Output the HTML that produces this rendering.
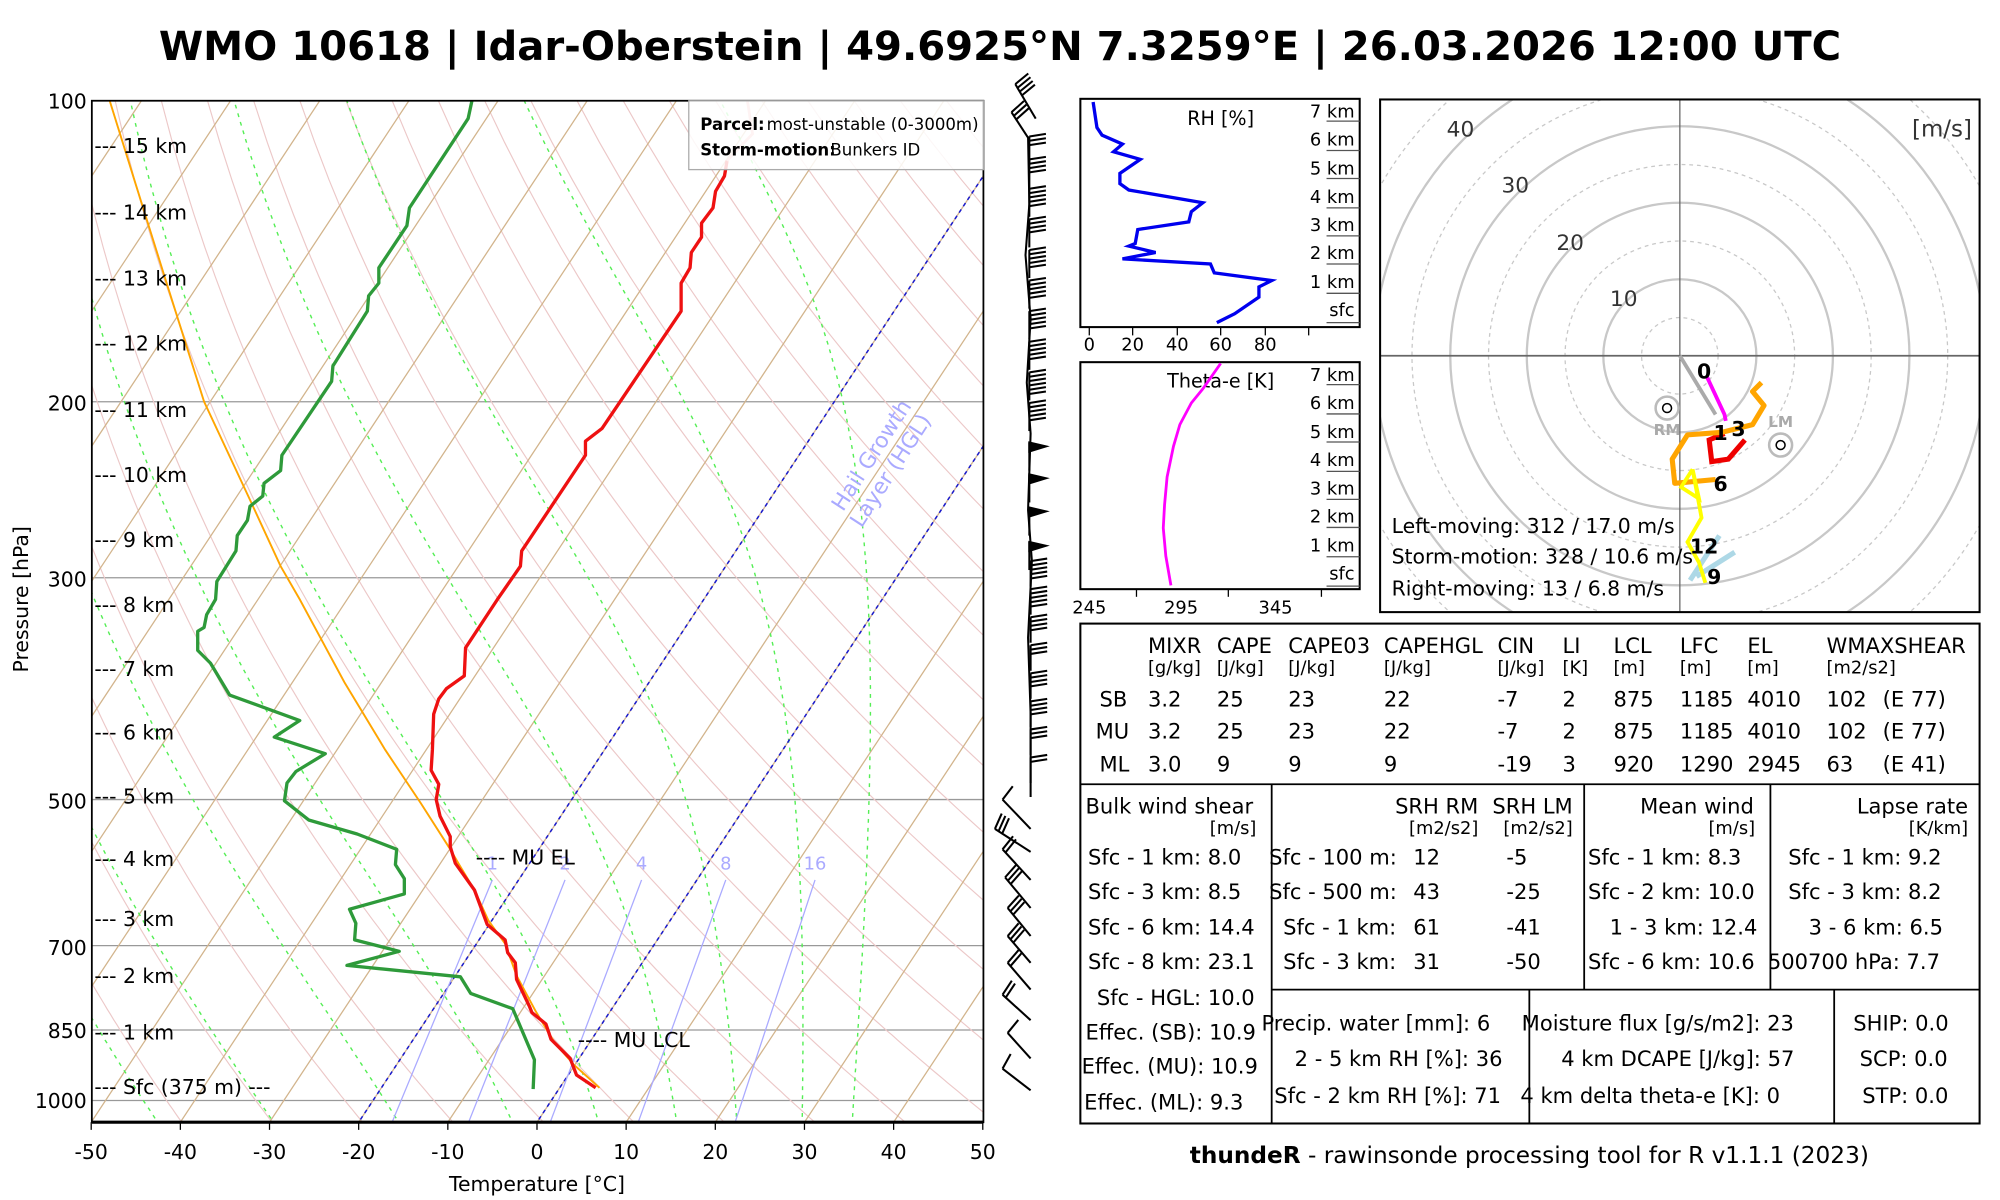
<!DOCTYPE html>
<html><head><meta charset="utf-8"><style>
html,body{margin:0;padding:0;background:#fff;}
svg{display:block;font-family:"DejaVu Sans","Liberation Sans",sans-serif;}
</style></head><body>
<svg id="s" width="2000" height="1200" viewBox="0 0 1568 941" preserveAspectRatio="none" xmlns="http://www.w3.org/2000/svg">
<defs><clipPath id="cp"><rect x="72" y="79" width="699" height="801"/></clipPath>
<clipPath id="hc"><rect x="1082" y="78" width="470" height="402"/></clipPath></defs>
<rect width="1568" height="941" fill="#fff"/>
<text x="784" y="47" font-size="31.5" font-weight="bold" text-anchor="middle">WMO 10618 | Idar-Oberstein | 49.6925°N 7.3259°E | 26.03.2026 12:00 UTC</text>
<g id="bg" clip-path="url(#cp)"></g>
<g id="fg" clip-path="url(#cp)"></g>
<g id="bar" stroke="#000" stroke-width="1.6" fill="none"></g>
<g id="txt"></g>
</svg>
<script>
var NS="http://www.w3.org/2000/svg";
function el(p,t,a,tx){var e=document.createElementNS(NS,t);for(var k in a)e.setAttribute(k,a[k]);if(tx!=null)e.textContent=tx;document.getElementById(p).appendChild(e);return e;}
function Y(p){return 79+784*Math.log10(p/100);}
function X(T,p){return 421+6.99*T+0.66*(880-Y(p));}
function pl(g,pts,st){el(g,"polyline",Object.assign({points:pts.map(function(q){return q[0].toFixed(1)+","+q[1].toFixed(1)}).join(" "),fill:"none"},st));}
[200,300,500,700,850,1000].forEach(function(p){el("bg","line",{x1:72,x2:771,y1:Y(p),y2:Y(p),stroke:"#999","stroke-width":1});});
for(var th=200;th<=600;th+=10){var a=[];for(var p=100;p<=1060;p+=10){a.push([X(th*Math.pow(p/1000,0.2857)-273.15,p),Y(p)]);}pl("bg",a,{stroke:"#ecc8c8","stroke-width":0.9});}
for(var Ti=-160;Ti<=50;Ti+=10){el("bg","line",{x1:X(Ti,1060),y1:Y(1060),x2:X(Ti,100),y2:Y(100),stroke:"#d2b48c","stroke-width":1});}
function es(tc){return 6.112*Math.exp(17.67*tc/(tc+243.5));}
[-42,-29,-15,-2.3,7.3,16,22.7,30,35.6].forEach(function(t0){var p=1060,T=t0+273.15,a=[];while(p>=100){a.push([X(T-273.15,p),Y(p)]);var e=es(T-273.15),rs=0.622*e/(p-e);var d=(287*T+2.5e6*rs)/(1004+2.5e6*2.5e6*rs*0.622/(287*T*T))/p;T+=d*(-5);p-=5;}pl("bg",a,{stroke:"#55ee55","stroke-width":1.1,"stroke-dasharray":"3,4"});});
[-20,0].forEach(function(T){el("bg","line",{x1:X(T,1060),y1:Y(1060),x2:X(T,100),y2:Y(100),stroke:"#1a1acc","stroke-width":1.2,"stroke-dasharray":"3,3"});});
var mb=[307,367,431,500,576],mt=[386,443,503,569,639],ml=["1","2","4","8","16"];
for(var i=0;i<5;i++){el("bg","line",{x1:mb[i],y1:881,x2:mt[i],y2:690,stroke:"#aaaaff","stroke-width":1});el("bg","text",{x:mt[i],y:682,"font-size":14,fill:"#aaaaff","text-anchor":"middle"},ml[i]);}
var orange=[[470,853],[450,835],[435,818],[420,793],[405,765],[396,740],[383,722],[372,698],[360,678],[353,666],[330,630],[302,588],[270,535],[235,470],[220,444],[196,392],[160,315],[130,220],[105,140],[86,79]];
pl("fg",orange,{stroke:"#ffa500","stroke-width":1.5});
var red=[[467,853],[452,843],[447,830],[432,815],[428,803],[417,794],[415,789],[405,768],[404,755],[398,747],[396,737],[382,725],[372,698],[357,677],[353,664],[353,656],[345,640],[342,627],[344,615],[338,604],[339,588],[340,560],[344,548],[350,540],[364,530],[365,508],[390,470],[408,444],[409,432],[459,357],[459,346],[472,336],[534,244],[534,222],[541,210],[542,198],[550,186],[550,175],[559,163],[561,150],[568,138],[570,126]];
pl("fg",red,{stroke:"#ee1111","stroke-width":2.6,"stroke-linejoin":"round"});
pl("fg",[[570,126],[590,105],[586,79]],{stroke:"#f4b0b0","stroke-width":2.2});
var grn=[[418,854],[419,831],[402,791],[369,779],[361,766],[272,757],[313,746],[278,737],[279,724],[274,713],[317,701],[317,689],[310,678],[311,666],[280,654],[242,643],[223,628],[225,614],[232,605],[255,591],[215,578],[235,565],[180,545],[165,520],[155,510],[155,495],[160,492],[162,482],[169,470],[170,456],[185,432],[186,420],[194,408],[196,397],[206,389],[207,379],[220,369],[221,357],[260,299],[261,287],[288,244],[289,232],[297,222],[297,210],[319,177],[321,163],[367,93],[370,79]];
pl("fg",grn,{stroke:"#2e9a3a","stroke-width":2.6,"stroke-linejoin":"round"});
el("txt","rect",{x:72,y:79,width:699,height:801,fill:"none",stroke:"#000","stroke-width":1.4});
el("txt","line",{x1:72,x2:771,y1:880,y2:880,stroke:"#000","stroke-width":2.5});
for(var t=-50;t<=50;t+=10){var x=421+6.99*t;el("txt","line",{x1:x,x2:x,y1:880,y2:886,stroke:"#000"});el("txt","text",{x:x,y:909,"font-size":16,"text-anchor":"middle"},String(t));}
[[100,79],[200,316],[300,454],[500,628],[700,743],[850,808],[1000,863]].forEach(function(q){el("txt","text",{x:68,y:q[1]+6,"font-size":16,"text-anchor":"end"},String(q[0]));});
var km=[["15 km",114],["14 km",166],["13 km",218],["12 km",269],["11 km",321],["10 km",372],["9 km",423],["8 km",474],["7 km",524],["6 km",574],["5 km",624],["4 km",673],["3 km",720],["2 km",765],["1 km",809],["Sfc (375 m) ---",852]];
km.forEach(function(k){el("txt","text",{x:74,y:k[1]+6,"font-size":16},"--- "+k[0]);});
el("txt","text",{x:421,y:934,"font-size":16,"text-anchor":"middle"},"Temperature [°C]");
el("txt","text",{x:22,y:470,"font-size":16,"text-anchor":"middle",transform:"rotate(-90 22 470)"},"Pressure [hPa]");
el("txt","text",{x:373,y:678,"font-size":16},"---- MU EL");
el("txt","text",{x:453,y:821,"font-size":16},"---- MU LCL");
el("txt","text",{x:688,y:360,"font-size":17,fill:"#aaaaff","text-anchor":"middle",transform:"rotate(-57 688 360)"},"Hail Growth");
el("txt","text",{x:703,y:372,"font-size":17,fill:"#aaaaff","text-anchor":"middle",transform:"rotate(-57 703 372)"},"Layer (HGL)");
el("txt","rect",{x:540,y:79,width:231,height:54,fill:"#fff","fill-opacity":0.85,stroke:"#aaa","stroke-width":1});
el("txt","text",{x:549,y:102,"font-size":13,"font-weight":"bold"},"Parcel:");
el("txt","text",{x:601,y:102,"font-size":13},"most-unstable (0-3000m)");
el("txt","text",{x:549,y:122,"font-size":13,"font-weight":"bold"},"Storm-motion:");
el("txt","text",{x:651,y:122,"font-size":13},"Bunkers ID");
function barb(bx,by,tx,ty,n,flag){el("bar","line",{x1:bx,y1:by,x2:tx,y2:ty});var L=Math.hypot(tx-bx,ty-by),ux=(tx-bx)/L,uy=(ty-by)/L,px=-uy,py=ux;
 for(var i=0;i<n;i++){var sx=tx-ux*i*3.4,sy=ty-uy*i*3.4;el("bar","line",{x1:sx,y1:sy,x2:sx+px*13+ux*2,y2:sy+py*13+uy*2});}
 if(flag){el("bar","polygon",{points:tx+","+ty+" "+(tx+px*13)+","+(ty+py*13+3)+" "+(tx-ux*7)+","+(ty-uy*7),fill:"#000"});}}
barb(812,93,796,66,4);barb(806,108,793,88,3);
var up=[[107,3],[125,4],[148,5],[172,4],[196,5],[220,5],[244,5],[268,5],[292,6],[316,5]];
el("bar","polyline",{points:"806,107 807,160 804,200 808,250 805,300 808,340 806,400 809,440 806,500 808,560 808,625"});
up.forEach(function(q){barb(807,q[0]+22,807,q[0],q[1]);});
[347,372,398,425].forEach(function(y){barb(807,y+22,807,y,0,true);});
[440,462,484,506,528,550,572,594].forEach(function(y,i){barb(808,y+20,808,y,[5,5,4,3,4,4,3,2][i]);});
[[808,650,786,627,1],[808,668,780,650,3],[808,690,786,666,2],[808,712,788,688,3],[808,734,790,712,3],[808,755,790,734,3],[808,776,790,755,2],[808,800,786,780,2],[808,830,790,810,1],[808,855,786,838,1]].forEach(function(b){barb(b[0],b[1],b[2],b[3],b[4]);});
function kmLabels(off){var ls=["7 km","6 km","5 km","4 km","3 km","2 km","1 km","sfc"],ly=[87,109,132,154,176,198,221,243],lt=[95,118,140,163,185,207,230,253];
 for(var i=0;i<8;i++){el("txt","text",{x:1062,y:ly[i]+off+5,"font-size":14,"text-anchor":"end"},ls[i]);el("txt","line",{x1:1040,x2:1066,y1:lt[i]+off,y2:lt[i]+off,stroke:"#555","stroke-width":1});}}
el("txt","rect",{x:847,y:77.5,width:219,height:179,fill:"none",stroke:"#000","stroke-width":1.6});
kmLabels(0);
el("txt","text",{x:957,y:98,"font-size":15,"text-anchor":"middle"},"RH [%]");
pl("txt",[[857,80],[860,100],[864,106],[880,113],[873,119],[894,125],[878,136],[878,144],[885,149],[943,159],[934,166],[932,174],[892,180],[890,191],[885,193],[906,198],[880,203],[949,207],[952,214],[997,220],[987,225],[987,233],[968,246],[954,253]],{stroke:"#0000ee","stroke-width":2.6});
[[0,854],[20,888],[40,923],[60,957],[80,992],[null,1026]].forEach(function(q){el("txt","line",{x1:q[1],x2:q[1],y1:257,y2:263,stroke:"#000"});if(q[0]!=null)el("txt","text",{x:q[1],y:275,"font-size":14,"text-anchor":"middle"},String(q[0]));});
el("txt","rect",{x:847,y:284,width:219,height:178,fill:"none",stroke:"#000","stroke-width":1.6});
kmLabels(206.6);
el("txt","text",{x:957,y:304,"font-size":15,"text-anchor":"middle"},"Theta-e [K]");
pl("txt",[[957,285],[943,305],[934,316],[925,333],[920,350],[915,374],[913,396],[912,414],[914,436],[918,459]],{stroke:"#ff00ff","stroke-width":2.2});
[891,963,1036].forEach(function(x){el("txt","line",{x1:x,x2:x,y1:462,y2:468,stroke:"#000"});});
[[245,854],[295,926],[345,1000]].forEach(function(q){el("txt","text",{x:q[1],y:481,"font-size":14,"text-anchor":"middle"},String(q[0]));});
var cx=1317,cy=279;
el("txt","g",{id:"hg","clip-path":"url(#hc)"});
[1,2,3,4,5,6,7,8,9].forEach(function(i){el("hg","circle",{cx:cx,cy:cy,r:30*i,fill:"none",stroke:"#c8c8c8","stroke-width":i%2?1:1.8,"stroke-dasharray":i%2?"3,3":"none"});});
el("hg","line",{x1:1082,x2:1552,y1:cy,y2:cy,stroke:"#666","stroke-width":1.4});
el("hg","line",{x1:cx,x2:cx,y1:78,y2:480,stroke:"#666","stroke-width":1});
[["10",1273,240],["20",1231,196],["30",1188,151],["40",1145,107]].forEach(function(q){el("txt","text",{x:q[1],y:q[2],"font-size":17,fill:"#333","text-anchor":"middle"},q[0]);});
el("txt","text",{x:1546,y:107,"font-size":18,fill:"#333","text-anchor":"end"},"[m/s]");
pl("txt",[[1317,279],[1345,325]],{stroke:"#aaa","stroke-width":3});
pl("txt",[[1338,295],[1352,325],[1353,330]],{stroke:"#ff00ff","stroke-width":3});
pl("txt",[[1352,340],[1340,345],[1342,362],[1355,360],[1368,345]],{stroke:"#ee0000","stroke-width":4});
pl("txt",[[1381,300],[1374,307],[1383,318],[1374,333],[1350,339],[1323,341],[1311,360],[1313,379],[1345,376]],{stroke:"#ffa500","stroke-width":4,"stroke-linejoin":"round"});
pl("txt",[[1348,420],[1325,455]],{stroke:"#add8e6","stroke-width":4});
pl("txt",[[1360,433],[1330,452]],{stroke:"#add8e6","stroke-width":4});
pl("txt",[[1327,368],[1318,382],[1332,391],[1327,368],[1334,406],[1323,425],[1332,441],[1337,457]],{stroke:"#ffff00","stroke-width":3});
[["0",1336,297],["1",1349,345],["3",1363,342],["6",1349,385],["12",1336,434],["9",1344,458]].forEach(function(q){el("txt","text",{x:q[1],y:q[2],"font-size":16,"font-weight":"bold","text-anchor":"middle"},q[0]);});
[[1307,320,"RM",341],[1396,349,"LM",335]].forEach(function(q){el("txt","circle",{cx:q[0],cy:q[1],r:9,fill:"none",stroke:"#bbb","stroke-width":2});el("txt","circle",{cx:q[0],cy:q[1],r:3.5,fill:"none",stroke:"#000","stroke-width":1.2});el("txt","text",{x:q[0],y:q[3],"font-size":12,fill:"#aaa","font-weight":"bold","text-anchor":"middle"},q[2]);});
el("txt","text",{x:1091,y:418,"font-size":16},"Left-moving: 312 / 17.0 m/s");
el("txt","text",{x:1091,y:442,"font-size":16},"Storm-motion: 328 / 10.6 m/s");
el("txt","text",{x:1091,y:467,"font-size":16},"Right-moving: 13 / 6.8 m/s");
el("txt","rect",{x:1082,y:78,width:470,height:402,fill:"none",stroke:"#000","stroke-width":1.6});
function TX(x,y,s,fs,anc){el("txt","text",{x:x,y:y,"font-size":fs||16.5,"text-anchor":anc||"start"},s);}
el("txt","rect",{x:847,y:489,width:705,height:392,fill:"none",stroke:"#000","stroke-width":1.6});
[[847,615,1552,615],[997,615,997,881],[1242,615,1242,776],[1388,615,1388,776],[997,776,1552,776],[1199,776,1199,881],[1438,776,1438,881]].forEach(function(l){el("txt","line",{x1:l[0],y1:l[1],x2:l[2],y2:l[3],stroke:"#000","stroke-width":1.4});});
var cols=[900,954,1010,1085,1174,1225,1265,1317,1370,1432];
["MIXR","CAPE","CAPE03","CAPEHGL","CIN","LI","LCL","LFC","EL","WMAXSHEAR"].forEach(function(s,i){TX(cols[i],512,s);});
["[g/kg]","[J/kg]","[J/kg]","[J/kg]","[J/kg]","[K]","[m]","[m]","[m]","[m2/s2]"].forEach(function(s,i){TX(cols[i],528,s,14);});
var rows=[["SB",862,["3.2","25","23","22","-7","2","875","1185","4010","102"],"(E 77)",554],["MU",859,["3.2","25","23","22","-7","2","875","1185","4010","102"],"(E 77)",579],["ML",862,["3.0","9","9","9","-19","3","920","1290","2945","63"],"(E 41)",605]];
rows.forEach(function(r){TX(r[1],r[4],r[0]);r[2].forEach(function(v,i){TX(cols[i],r[4],v);});TX(1476,r[4],r[3]);});
TX(851,638,"Bulk wind shear");TX(985,654,"[m/s]",14,"end");
TX(1159,638,"SRH RM",16.5,"end");TX(1159,654,"[m2/s2]",14,"end");TX(1233,638,"SRH LM",16.5,"end");TX(1233,654,"[m2/s2]",14,"end");
TX(1375,638,"Mean wind",16.5,"end");TX(1376,654,"[m/s]",14,"end");
TX(1543,638,"Lapse rate",16.5,"end");TX(1543,654,"[K/km]",14,"end");
var ry=[678,705,733,760,788,815,842,870];
[["Sfc - 1 km: 8.0",853],["Sfc - 3 km: 8.5",853],["Sfc - 6 km: 14.4",853],["Sfc - 8 km: 23.1",853],["Sfc - HGL: 10.0",860],["Effec. (SB): 10.9",851],["Effec. (MU): 10.9",848],["Effec. (ML): 9.3",850]].forEach(function(q,i){TX(q[1],ry[i],q[0]);});
[["Sfc - 100 m:",995,"12","-5"],["Sfc - 500 m:",995,"43","-25"],["Sfc - 1 km:",1006,"61","-41"],["Sfc - 3 km:",1006,"31","-50"]].forEach(function(q,i){TX(q[1],ry[i],q[0]);TX(1108,ry[i],q[2]);TX(1181,ry[i],q[3]);});
[["Sfc - 1 km: 8.3",1245],["Sfc - 2 km: 10.0",1245],["1 - 3 km: 12.4",1262],["Sfc - 6 km: 10.6",1245]].forEach(function(q,i){TX(q[1],ry[i],q[0]);});
[["Sfc - 1 km: 9.2",1402],["Sfc - 3 km: 8.2",1402],["3 - 6 km: 6.5",1418],["500700 hPa: 7.7",1386]].forEach(function(q,i){TX(q[1],ry[i],q[0]);});
var ly2=[808,836,865];
[["Precip. water [mm]: 6",989],["2 - 5 km RH [%]: 36",1015],["Sfc - 2 km RH [%]: 71",999]].forEach(function(q,i){TX(q[1],ly2[i],q[0]);});
[["Moisture flux [g/s/m2]: 23",1193],["4 km DCAPE [J/kg]: 57",1224],["4 km delta theta-e [K]: 0",1192]].forEach(function(q,i){TX(q[1],ly2[i],q[0]);});
[["SHIP: 0.0",1453],["SCP: 0.0",1458],["STP: 0.0",1460]].forEach(function(q,i){TX(q[1],ly2[i],q[0]);});
var f=el("txt","text",{x:1199,y:912,"font-size":18.2,"text-anchor":"middle"});
var b=document.createElementNS(NS,"tspan");b.setAttribute("font-weight","bold");b.textContent="thundeR";f.appendChild(b);
var r2=document.createElementNS(NS,"tspan");r2.textContent=" - rawinsonde processing tool for R v1.1.1 (2023)";f.appendChild(r2);
</script>
</body></html>
